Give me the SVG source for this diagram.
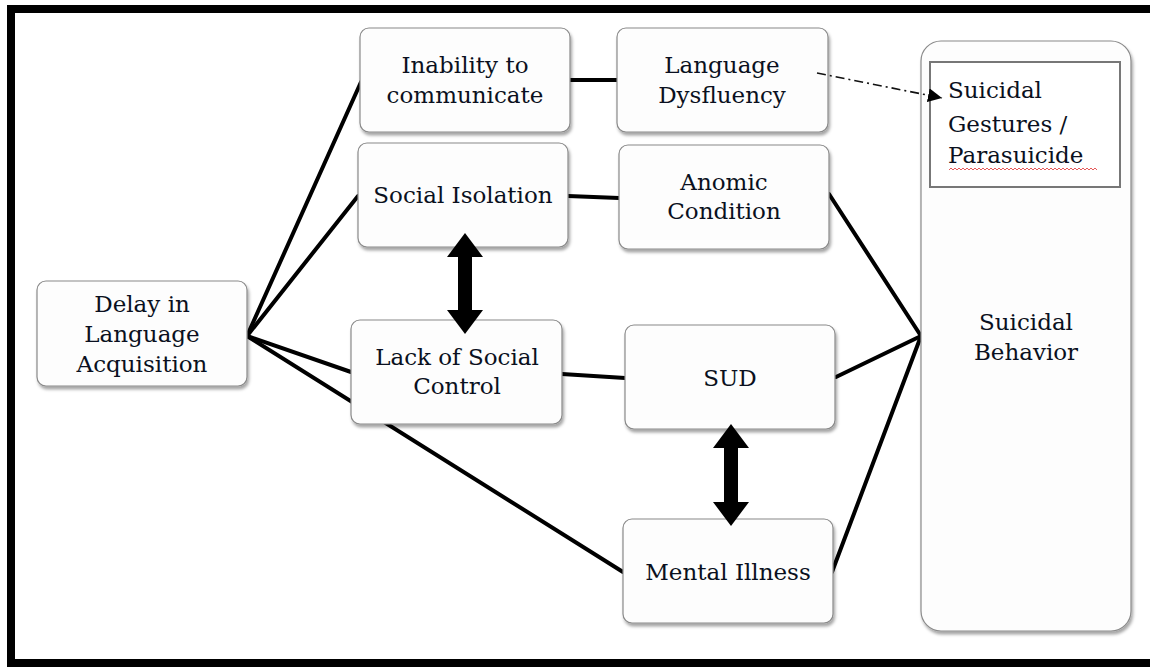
<svg xmlns="http://www.w3.org/2000/svg" width="1150" height="667" viewBox="0 0 1150 667">
<defs>
<filter id="sh" x="-10%" y="-10%" width="125%" height="130%">
<feDropShadow dx="1.5" dy="3" stdDeviation="1.8" flood-color="#000" flood-opacity="0.35"/>
</filter>
<marker id="tri" viewBox="0 0 10 10" refX="10" refY="5" markerWidth="14" markerHeight="14" markerUnits="userSpaceOnUse" orient="auto">
<path d="M0,0 L10,5 L0,10 z" fill="#000"/>
</marker>
<style>
.box{fill:#fdfdfd;stroke:#8a8a8a;stroke-width:1.2;filter:url(#sh)}
.t{font-family:"DejaVu Serif","Liberation Serif",serif;font-size:23px;fill:#0a1020;text-anchor:middle}
.tl{font-family:"DejaVu Serif","Liberation Serif",serif;font-size:23px;fill:#0a1020}
.ln{stroke:#000;stroke-width:4;fill:none;stroke-linecap:round}
</style>
</defs>
<rect x="0" y="0" width="1150" height="667" fill="#fff"/>
<rect x="11" y="9" width="1150" height="654" fill="none" stroke="#000" stroke-width="8"/>

<g id="connectors">
<line class="ln" x1="247" y1="336" x2="361" y2="82"/>
<line class="ln" x1="247" y1="336" x2="358" y2="196"/>
<line class="ln" x1="247" y1="336" x2="351" y2="372"/>
<line class="ln" x1="247" y1="336" x2="623" y2="572"/>
<line class="ln" x1="570" y1="80" x2="617" y2="80"/>
<line class="ln" x1="568" y1="196" x2="619" y2="198"/>
<line class="ln" x1="562" y1="374" x2="625" y2="378"/>
<line class="ln" x1="829" y1="194" x2="921" y2="336"/>
<line class="ln" x1="836" y1="377" x2="921" y2="336"/>
<line class="ln" x1="832" y1="572" x2="921" y2="336"/>
</g>

<g id="n-delay">
<rect class="box" x="37" y="281" width="210" height="105" rx="9"/>
<text class="t" x="142" y="312">Delay in</text>
<text class="t" x="142" y="342">Language</text>
<text class="t" x="142" y="372">Acquisition</text>
</g>
<g id="n-inability">
<rect class="box" x="360" y="28" width="210" height="104" rx="9"/>
<text class="t" x="465" y="73">Inability to</text>
<text class="t" x="465" y="103">communicate</text>
</g>
<g id="n-dysfluency">
<rect class="box" x="617" y="28" width="211" height="104" rx="9"/>
<text class="t" x="722" y="73">Language</text>
<text class="t" x="722" y="103">Dysfluency</text>
</g>
<g id="n-isolation">
<rect class="box" x="358" y="143" width="210" height="104" rx="9"/>
<text class="t" x="463" y="203">Social Isolation</text>
</g>
<g id="n-anomic">
<rect class="box" x="619" y="145" width="210" height="104" rx="9"/>
<text class="t" x="724" y="190">Anomic</text>
<text class="t" x="724" y="219">Condition</text>
</g>
<g id="n-lack">
<rect class="box" x="351" y="320" width="211" height="104" rx="9"/>
<text class="t" x="457" y="365">Lack of Social</text>
<text class="t" x="457" y="394">Control</text>
</g>
<g id="n-sud">
<rect class="box" x="625" y="325" width="210" height="104" rx="9"/>
<text class="t" x="730" y="386">SUD</text>
</g>
<g id="n-mental">
<rect class="box" x="623" y="519" width="210" height="104" rx="9"/>
<text class="t" x="728" y="580">Mental Illness</text>
</g>
<g id="n-suicidal">
<rect class="box" x="921" y="41" width="210" height="590" rx="20"/>
<text class="t" x="1026" y="330">Suicidal</text>
<text class="t" x="1026" y="360">Behavior</text>
</g>
<g id="n-gestures">
<rect x="930" y="62" width="190" height="125" fill="#fff" stroke="#777" stroke-width="2"/>
<text class="tl" x="948" y="98">Suicidal</text>
<text class="tl" x="948" y="132">Gestures /</text>
<text class="tl" x="948" y="163">Parasuicide</text>
<path d="M949,170 l2,-2 l2,2 l2,-2 l2,2 l2,-2 l2,2 l2,-2 l2,2 l2,-2 l2,2 l2,-2 l2,2 l2,-2 l2,2 l2,-2 l2,2 l2,-2 l2,2 l2,-2 l2,2 l2,-2 l2,2 l2,-2 l2,2 l2,-2 l2,2 l2,-2 l2,2 l2,-2 l2,2 l2,-2 l2,2 l2,-2 l2,2 l2,-2 l2,2 l2,-2 l2,2 l2,-2 l2,2 l2,-2 l2,2 l2,-2 l2,2 l2,-2 l2,2 l2,-2 l2,2 l2,-2 l2,2 l2,-2 l2,2 l2,-2 l2,2 l2,-2 l2,2 l2,-2 l2,2 l2,-2 l2,2 l2,-2 l2,2 l2,-2 l2,2 l2,-2 l2,2 l2,-2 l2,2 l2,-2 l2,2 l2,-2 l2,2 l2,-2 l2,2" fill="none" stroke="#e03030" stroke-width="0.8"/>
</g>

<g id="arrows">
<line x1="817" y1="73" x2="942" y2="98" stroke="#111" stroke-width="1.6" stroke-dasharray="9 4 2 4" marker-end="url(#tri)"/>
<polygon points="465,233 483,257 472,257 472,310 483,310 465,334 447,310 458,310 458,257 447,257" fill="#000"/>
<polygon points="731,424 749,448 738,448 738,502 749,502 731,526 713,502 724,502 724,448 713,448" fill="#000"/>
</g>
</svg>
